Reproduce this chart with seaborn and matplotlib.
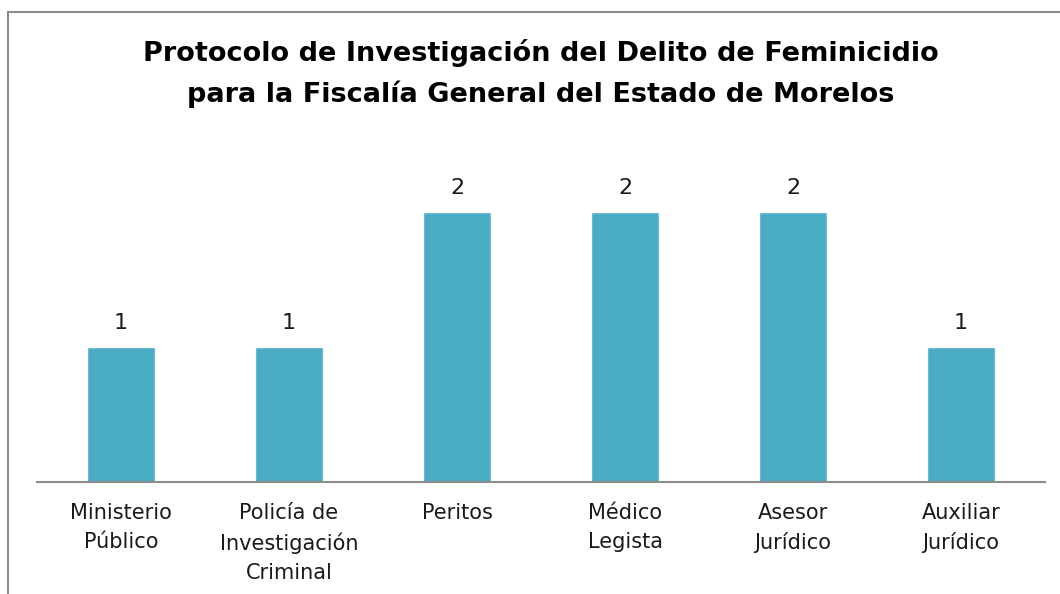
import matplotlib
matplotlib.use("Agg")
import matplotlib.pyplot as plt
import seaborn as sns
import pandas as pd

categorias = ["Ministerio\nPúblico", "Policía de\nInvestigación\nCriminal", "Peritos",
              "Médico\nLegista", "Asesor\nJurídico", "Auxiliar\nJurídico"]
valores = [1, 1, 2, 2, 2, 1]
titulo = "Protocolo de Investigación del Delito de Feminicidio\npara la Fiscalía General del Estado de Morelos"

sns.set_style("white")
plt.rcParams['font.family'] = ['DejaVu Sans']

df = pd.DataFrame({"cat": categorias, "val": valores})

fig = plt.figure(figsize=(10.6, 5.94), dpi=100)
ax = fig.add_axes([37 / 1060, 1 - 482 / 594, 1008 / 1060, (482 - 144.5) / 594])

sns.barplot(data=df, x="cat", y="val", color="#4BACC6", saturation=1, width=0.4, ax=ax)
ax.set_ylim(0, 2.5)
ax.set_xlim(-0.5, 5.5)

for i, v in enumerate(valores):
    ax.text(i, v + 0.1, str(v), ha="center", va="bottom", fontsize=16, color="#1a1a1a")

ax.set_xlabel("")
ax.set_ylabel("")
ax.set_yticks([])
ax.tick_params(axis="x", length=0, pad=15, labelsize=15, labelcolor="#1a1a1a")
for lab in ax.get_xticklabels():
    lab.set_verticalalignment("top")
    lab.set_linespacing(1.55)
for s in ["top", "right", "left"]:
    ax.spines[s].set_visible(False)
ax.spines["bottom"].set_color("#8c8c8c")
ax.spines["bottom"].set_linewidth(1.5)

fig.text(541 / 1060, 1 - 73.5 / 594, titulo, ha="center", va="center", fontsize=19.5,
         fontweight="bold", linespacing=1.65, color="black")

# chart border (left and top visible)
fig.add_artist(plt.Line2D([8 / 1060, 8 / 1060], [0, 1 - 12 / 594], color="#8c8c8c", lw=1.5))
fig.add_artist(plt.Line2D([8 / 1060, 1], [1 - 12 / 594, 1 - 12 / 594], color="#8c8c8c", lw=1.5))

fig.savefig("out.png", dpi=100)
